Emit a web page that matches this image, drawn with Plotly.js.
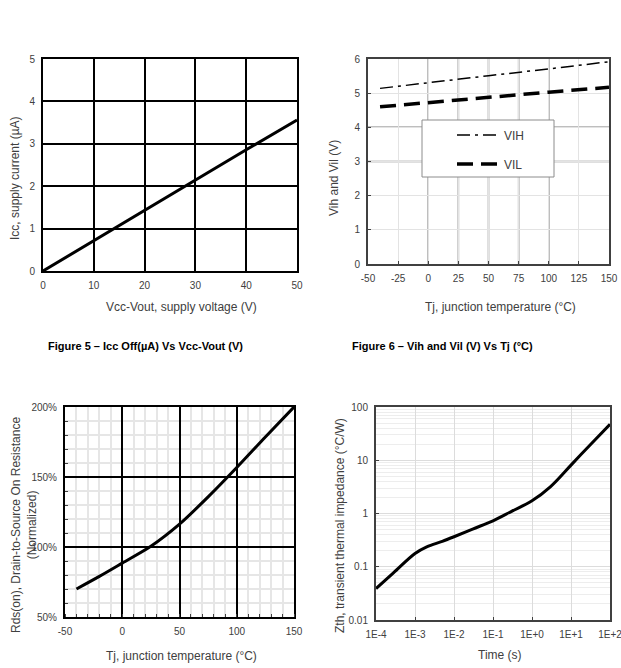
<!DOCTYPE html>
<html>
<head>
<meta charset="utf-8">
<script src="https://cdn.plot.ly/plotly-3.0.1.min.js"></script>
<style>
  html, body { margin: 0; padding: 0; background: #fff; }
  #chart { width: 621px; height: 668px; }
</style>
</head>
<body>
<div id="chart"></div>
<script>
// Figure 5: off-state supply current vs supply voltage
const vccVout = [0, 10, 20, 30, 40, 50];
const iccOff = [0, 0.72, 1.43, 2.14, 2.86, 3.56];

// Figure 6: input thresholds vs junction temperature
const tjThresh = [-40, 0, 50, 100, 150];
const vih = [5.14, 5.31, 5.51, 5.71, 5.92];
const vil = [4.60, 4.73, 4.88, 5.03, 5.17];

// Normalized Rds(on) vs junction temperature (percent)
const tjRds = [-40, -20, 0, 25, 50, 75, 100, 125, 150];
const rdsNorm = [70, 79, 88.5, 100.5, 116.3, 135.8, 156.8, 178.6, 200];

// Transient thermal impedance vs time
const timeS = [1e-4, 2.8e-4, 1e-3, 2e-3, 5e-3, 1e-2, 3e-2, 1e-1, 3e-1, 1, 3, 10, 30, 100];
const zth = [0.039, 0.077, 0.178, 0.237, 0.30, 0.366, 0.51, 0.73, 1.1, 1.73, 3.2, 8.1, 19, 47.5];

// tick positions / labels
const tempTicks6 = [-50, -25, 0, 25, 50, 75, 100, 125, 150];
const tempTicksRds = [-50, 0, 50, 100, 150];
const logTimeTicks = [1e-4, 1e-3, 1e-2, 1e-1, 1, 10, 100];
const logTimeLabels = ['1E-4', '1E-3', '1E-2', '1E-1', '1E+0', '1E+1', '1E+2'];
const logZthTicks = [0.01, 0.1, 1, 10, 100];
const logZthLabels = ['0.01', '0.1', '1', '10', '100'];

const darkGridX2 = [0, 25, 50, 75, 100];
const darkGridY2 = [3, 4];

const W = 621, H = 668;
const px = x => x / W;
const py = y => 1 - y / H;

const FONT = 'Liberation Sans, Arial, sans-serif';
const tickFont = { family: FONT, size: 10, color: '#404040' };
const titleFont = { family: FONT, size: 12, color: '#404040' };

const traces = [
  { x: vccVout, y: iccOff, xaxis: 'x', yaxis: 'y', mode: 'lines',
    line: { color: '#000', width: 3 }, showlegend: false },
  { x: tjThresh, y: vih, xaxis: 'x2', yaxis: 'y2', mode: 'lines', name: 'VIH',
    line: { color: '#000', width: 1.5, dash: '13px,5px,3px,5px' }, legend: 'legend' },
  { x: tjThresh, y: vil, xaxis: 'x2', yaxis: 'y2', mode: 'lines', name: 'VIL',
    line: { color: '#000', width: 3.5, dash: '16px,8px' }, legend: 'legend2' },
  { x: tjRds, y: rdsNorm, xaxis: 'x3', yaxis: 'y3', mode: 'lines',
    line: { color: '#000', width: 3, shape: 'spline', smoothing: 0.8 }, showlegend: false },
  { x: timeS, y: zth, xaxis: 'x4', yaxis: 'y4', mode: 'lines',
    line: { color: '#000', width: 3, shape: 'spline' }, showlegend: false }
];

const baseAxis = {
  showline: true, mirror: true, zeroline: false, fixedrange: true,
  tickfont: tickFont, ticklabelstandoff: 4, ticklabeloverflow: 'allow'
};

const shapes = [];
darkGridX2.forEach(v => shapes.push({ type: 'line', xref: 'x2', yref: 'y2 domain', x0: v, x1: v, y0: 0, y1: 1,
  line: { color: '#7f7f7f', width: 1.5 }, layer: 'below' }));
darkGridY2.forEach(v => shapes.push({ type: 'line', xref: 'x2 domain', yref: 'y2', x0: 0, x1: 1, y0: v, y1: v,
  line: { color: '#7f7f7f', width: 1.5 }, layer: 'below' }));
shapes.push({ type: 'line', xref: 'x3 domain', yref: 'y3', x0: 0, x1: 1, y0: 130, y1: 130,
  line: { color: '#8c8c8c', width: 1.5 }, layer: 'below' });
// legend frame for figure 6
shapes.push({ type: 'rect', xref: 'paper', yref: 'paper', x0: px(422), x1: px(554), y0: py(177), y1: py(120),
  fillcolor: '#fff', line: { color: '#8c8c8c', width: 1 }, layer: 'above' });

function ann(text, x, y, opts) {
  return Object.assign({ text, x: px(x), y: py(y), xref: 'paper', yref: 'paper', showarrow: false,
    xanchor: 'center', yanchor: 'middle', font: titleFont }, opts || {});
}

const annotations = [
  ann('Vcc-Vout, supply voltage (V)', 181, 307),
  ann('Icc, supply current (µA)', 15, 178, { textangle: -90 }),
  ann('Tj, junction temperature (°C)', 500, 307),
  ann('Vih and Vil (V)', 334, 178, { textangle: -90 }),
  ann('Tj, junction temperature (°C)', 181, 656),
  ann('Rds(on), Drain-to-Source On Resistance<br>(Normalized)', 24, 525, { textangle: -90 }),
  ann('Time (s)', 500, 655),
  ann('Zth, transient thermal impedance (°C/W)', 340, 526, { textangle: -90 }),
  ann('<b>Figure 5 – Icc Off(µA) Vs Vcc-Vout (V)</b>', 145, 346, { font: { family: FONT, size: 11, color: '#000' } }),
  ann('<b>Figure 6 – Vih and Vil (V) Vs Tj (°C)</b>', 442.5, 346, { font: { family: FONT, size: 11, color: '#000' } })
];

const legendBase = { bgcolor: 'rgba(0,0,0,0)', borderwidth: 0, xref: 'paper', yref: 'paper',
  xanchor: 'left', yanchor: 'middle', itemwidth: 42, font: { family: FONT, size: 12, color: '#404040' } };

const layout = {
  width: W, height: H,
  margin: { l: 0, r: 0, t: 0, b: 0 },
  paper_bgcolor: '#fff', plot_bgcolor: '#fff',
  showlegend: true,
  legend: Object.assign({}, legendBase, { x: px(452), y: py(135) }),
  legend2: Object.assign({}, legendBase, { x: px(452), y: py(164) }),
  xaxis: Object.assign({}, baseAxis, { domain: [px(43), px(297)], anchor: 'y', range: [0, 50], dtick: 10,
    showgrid: true, gridcolor: '#000', gridwidth: 2, linecolor: '#000', linewidth: 2, ticks: '' }),
  yaxis: Object.assign({}, baseAxis, { domain: [py(271), py(59)], anchor: 'x', range: [0, 5], dtick: 1,
    showgrid: true, gridcolor: '#000', gridwidth: 2, linecolor: '#000', linewidth: 2, ticks: '' }),
  xaxis2: Object.assign({}, baseAxis, { domain: [px(368), px(609)], anchor: 'y2', range: [-50, 150],
    tickvals: tempTicks6, ticktext: tempTicks6.map(String),
    showgrid: true, gridcolor: '#e3e3e3', linecolor: '#404040', linewidth: 2,
    ticks: 'inside', ticklen: 3, tickcolor: '#404040' }),
  yaxis2: Object.assign({}, baseAxis, { domain: [py(264), py(59)], anchor: 'x2', range: [0, 6], dtick: 1,
    showgrid: true, gridcolor: '#e3e3e3', linecolor: '#404040', linewidth: 2,
    ticks: 'inside', ticklen: 3, tickcolor: '#404040' }),
  xaxis3: Object.assign({}, baseAxis, { domain: [px(65), px(294)], anchor: 'y3', range: [-50, 150],
    tickvals: tempTicksRds, ticktext: tempTicksRds.map(String),
    showgrid: true, gridcolor: '#000', gridwidth: 2, linecolor: '#000', linewidth: 2, ticks: '',
    minor: { dtick: 10, showgrid: true, gridcolor: '#e6e6e6', ticks: 'inside', ticklen: 3, tickcolor: '#404040' } }),
  yaxis3: Object.assign({}, baseAxis, { domain: [py(617), py(407)], anchor: 'x3', range: [50, 200], dtick: 50,
    ticksuffix: '%', showgrid: true, gridcolor: '#000', gridwidth: 2, linecolor: '#000', linewidth: 2, ticks: '',
    minor: { dtick: 10, showgrid: true, gridcolor: '#e6e6e6', ticks: 'inside', ticklen: 3, tickcolor: '#404040' } }),
  xaxis4: Object.assign({}, baseAxis, { domain: [px(376), px(610)], anchor: 'y4', type: 'log', range: [-4, 2],
    tickvals: logTimeTicks, ticktext: logTimeLabels, showgrid: true, gridcolor: '#dcdcdc',
    linecolor: '#404040', linewidth: 2, ticks: 'inside', ticklen: 3, tickcolor: '#404040' }),
  yaxis4: Object.assign({}, baseAxis, { domain: [py(620), py(407)], anchor: 'x4', type: 'log', range: [-2, 2],
    tickvals: logZthTicks, ticktext: logZthLabels, showgrid: true, gridcolor: '#dcdcdc',
    linecolor: '#404040', linewidth: 2, ticks: 'inside', ticklen: 3, tickcolor: '#404040',
    minor: { dtick: 'D1', showgrid: true, gridcolor: '#ededed' } }),
  shapes, annotations
};

Plotly.newPlot('chart', traces, layout, { staticPlot: true, displayModeBar: false });
</script>
</body>
</html>
